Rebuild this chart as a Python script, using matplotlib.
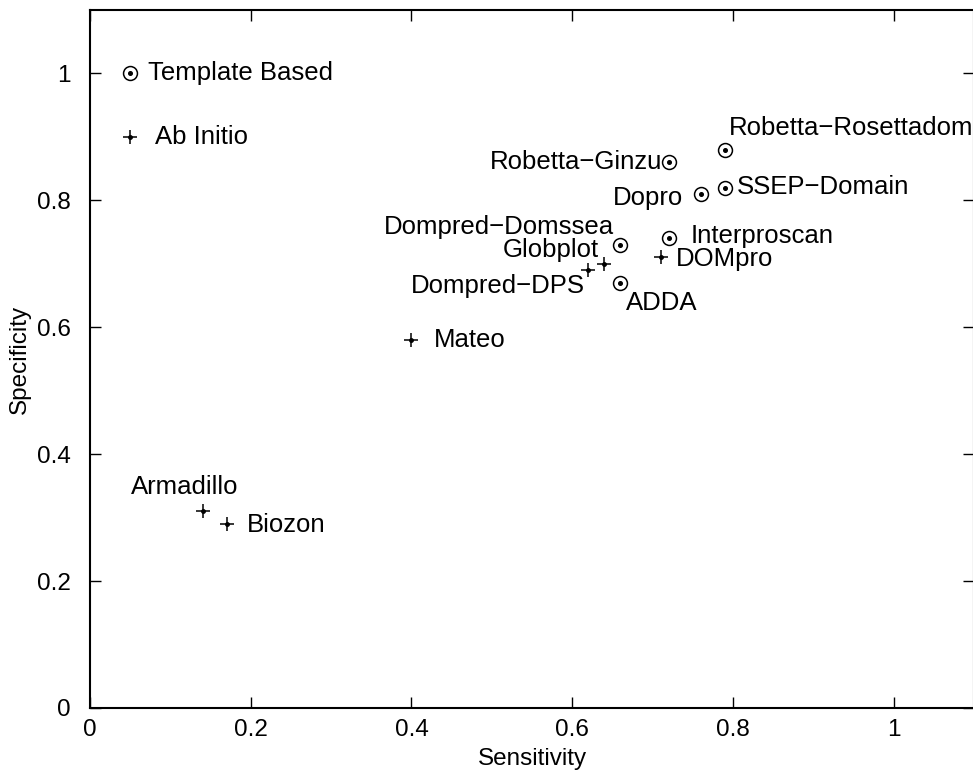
import matplotlib
matplotlib.use('Agg')
import matplotlib.pyplot as plt

plt.rcParams['font.family'] = ['Liberation Sans', 'DejaVu Sans']

# Data
names = ['Template Based', 'Ab Initio', 'Robetta\u2212Rosettadom', 'Robetta\u2212Ginzu',
         'Dopro', 'SSEP\u2212Domain', 'Dompred\u2212Domssea', 'Interproscan',
         'DOMpro', 'Globplot', 'Dompred\u2212DPS', 'ADDA', 'Mateo',
         'Armadillo', 'Biozon']
sensitivity = [0.05, 0.05, 0.79, 0.72, 0.76, 0.79, 0.66, 0.72, 0.71, 0.64,
               0.62, 0.66, 0.40, 0.14, 0.17]
specificity = [1.00, 0.90, 0.88, 0.86, 0.81, 0.82, 0.73, 0.74, 0.71, 0.70,
               0.69, 0.67, 0.58, 0.31, 0.29]
method = ['T', 'A', 'T', 'T', 'T', 'T', 'T', 'T', 'A', 'A', 'A', 'T', 'A', 'A', 'A']

# label placement: offset in pixels, ha, va
label_pos = {
    'Template Based': (18, 0, 'left', 'center'),
    'Ab Initio': (25, 0, 'left', 'center'),
    'Robetta\u2212Rosettadom': (4, 10, 'left', 'bottom'),
    'Robetta\u2212Ginzu': (-6, 0, 'right', 'center'),
    'Dopro': (-18, -4, 'right', 'center'),
    'SSEP\u2212Domain': (12, 1, 'left', 'center'),
    'Dompred\u2212Domssea': (-6, 6, 'right', 'bottom'),
    'Interproscan': (22, 2, 'left', 'center'),
    'DOMpro': (15, -2, 'left', 'center'),
    'Globplot': (-5, 2, 'right', 'bottom'),
    'Dompred\u2212DPS': (-3, -4, 'right', 'top'),
    'ADDA': (6, -8, 'left', 'top'),
    'Mateo': (22, 0, 'left', 'center'),
    'Armadillo': (-72, 12, 'left', 'bottom'),
    'Biozon': (20, -1, 'left', 'center'),
}

fig = plt.figure(figsize=(9.73, 7.71), dpi=100)
ax = fig.add_axes([90 / 973, 63 / 771, 884 / 973, 698 / 771])

for n, x, y, m in zip(names, sensitivity, specificity, method):
    if m == 'T':
        ax.plot(x, y, marker='o', markersize=10, markerfacecolor='none',
                markeredgecolor='black', markeredgewidth=1.1, linestyle='none')
        ax.plot(x, y, marker='o', markersize=2.6, color='black', linestyle='none')
    else:
        ax.plot(x, y, marker='+', markersize=10, color='black',
                markeredgewidth=1.1, linestyle='none')
        ax.plot(x, y, marker='o', markersize=2.5, color='black', linestyle='none')
    dx, dy, ha, va = label_pos[n]
    ax.annotate(n, (x, y), xytext=(dx, dy), textcoords='offset pixels',
                ha=ha, va=va, fontsize=18.5)

ax.set_xlim(0, 1.1)
ax.set_ylim(0, 1.1)
ax.set_xticks([0, 0.2, 0.4, 0.6, 0.8, 1])
ax.set_yticks([0, 0.2, 0.4, 0.6, 0.8, 1])
ax.set_xticklabels(['0', '0.2', '0.4', '0.6', '0.8', '1'])
ax.set_yticklabels(['0', '0.2', '0.4', '0.6', '0.8', '1'])
ax.tick_params(direction='in', top=True, right=True, length=8, width=1,
               labelsize=17.5)
ax.tick_params(axis='x', pad=8)
ax.tick_params(axis='y', pad=14)
for s in ax.spines.values():
    s.set_linewidth(1.5)

ax.set_xlabel('Sensitivity', fontsize=17.5, labelpad=5)
ax.set_ylabel('Specificity', fontsize=17.5, labelpad=4)

fig.savefig('out.png', dpi=100)
